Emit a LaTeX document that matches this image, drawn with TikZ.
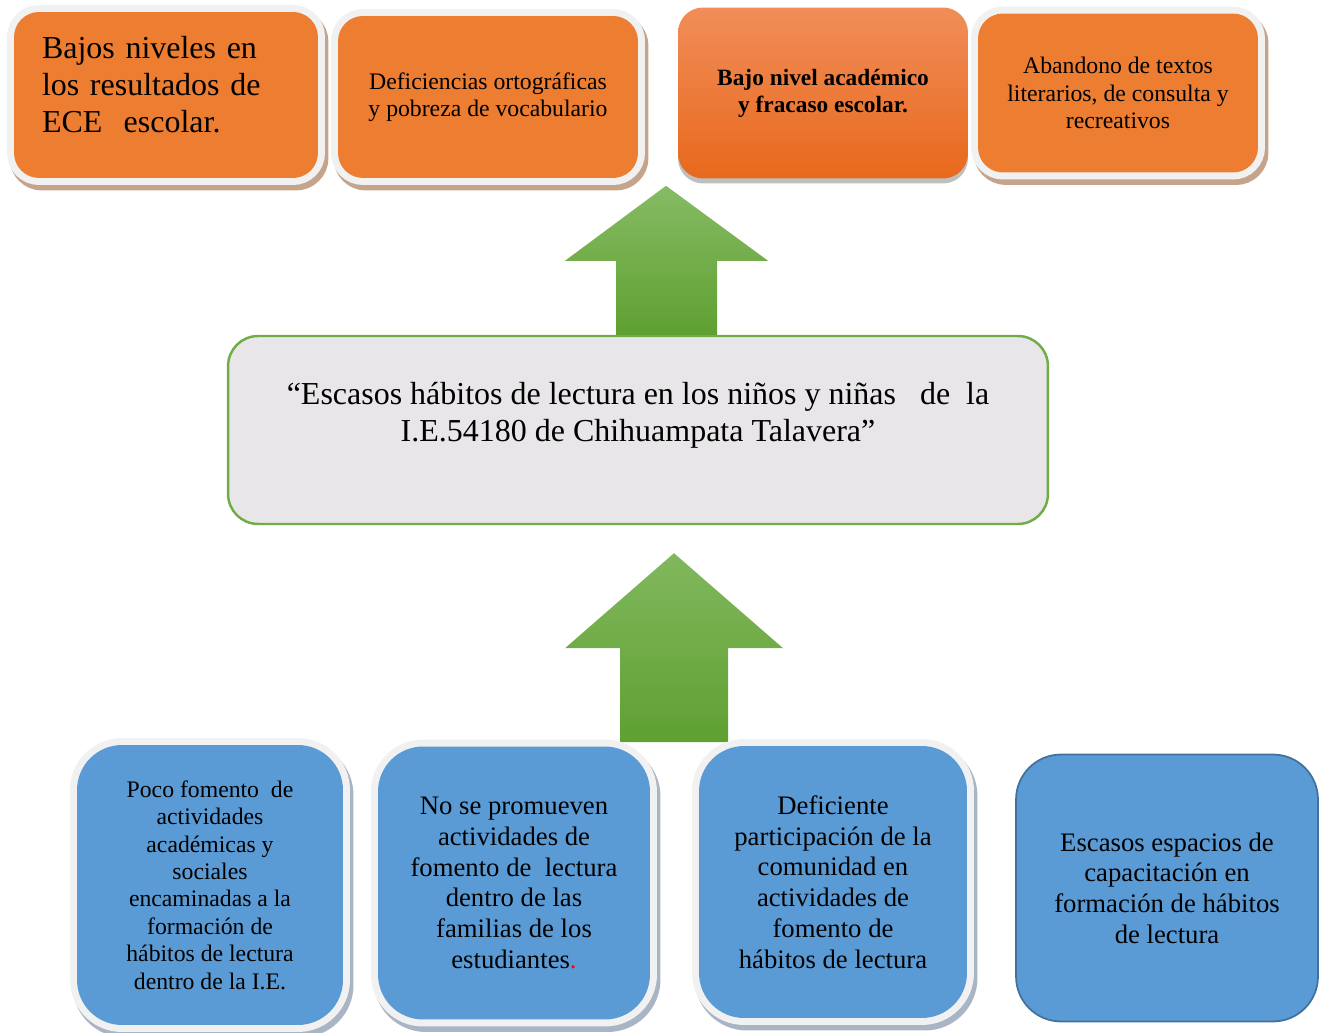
\documentclass[tikz,border=0pt]{standalone}
\usepackage{fontspec}
\setmainfont{Liberation Serif}
\usepackage{xcolor}
\usepackage{tikz}
\usetikzlibrary{
  positioning,
  shadows
}
\definecolor{efcolor}{HTML}{ED7D31}
\definecolor{efdark}{HTML}{E8691C}
\definecolor{eflight}{HTML}{F18D59}
\definecolor{cacolor}{HTML}{5B9BD5}
\definecolor{caborder}{HTML}{41719C}
\definecolor{probfill}{HTML}{E8E6E8}
\definecolor{probborder}{HTML}{70AD47}
\definecolor{frmgray}{HTML}{F1F1F1}
\definecolor{tanshadow}{HTML}{C6A48C}
\definecolor{blushadow}{HTML}{A9B5C4}
\definecolor{arrtop}{HTML}{86BB64}
\definecolor{arrbot}{HTML}{5FA031}

\begin{document}
\begin{tikzpicture}[
  x=0.02cm, y=-0.02cm,
  framed/.style={preaction={fill=#1, draw=#1, line width=0.3cm,
                   transform canvas={shift={(0.06cm,-0.1cm)}}},
                 preaction={draw=frmgray, line width=0.28cm}},
  efecto/.style={rounded corners=0.5cm, fill=efcolor, align=center,
                 inner sep=0pt, font=\fontsize{13.5}{15.6}\selectfont,
                 framed=tanshadow},
  causa/.style={rounded corners=0.9cm, fill=cacolor, align=center,
                inner sep=0pt, font=\fontsize{15.2}{17.5}\selectfont,
                framed=blushadow},
  problema/.style={draw=probborder, line width=1.4pt, fill=probfill,
                   rounded corners=0.6cm, align=center, inner sep=0pt,
                   font=\fontsize{18.2}{21}\selectfont},
  flecha/.style={top color=arrtop, bottom color=arrbot, draw=none},
]
  \useasboundingbox (0,0) rectangle (1328,1033);

  % Efectos
  \node[efecto, minimum width=6.08cm, minimum height=3.32cm,
        align=left, text width=4.96cm, inner xsep=0.56cm, text depth=1.9cm,
        font=\fontsize{18.2}{21}\selectfont] (e1) at (166,95)
    {Bajos niveles en\\los resultados de\\ECE\ \ escolar.};
  \node[efecto, minimum width=6.0cm, minimum height=3.24cm] (e2) at (488,97)
    {Deficiencias ortográficas\\y pobreza de vocabulario};
  \node[rounded corners=0.5cm, top color=eflight, bottom color=efdark,
        minimum width=5.8cm, minimum height=3.42cm, align=center,
        font=\fontsize{13.3}{15.4}\selectfont\bfseries,
        drop shadow={shadow xshift=0cm, shadow yshift=-0.1cm, opacity=0.5}]
    (e3) at (823,93) {Bajo nivel académico\\y fracaso escolar.};
  \node[efecto, minimum width=5.6cm, minimum height=3.18cm] (e4) at (1118,93)
    {Abandono de textos\\literarios, de consulta y\\recreativos};

  % Problema central
  \node[problema, minimum width=16.4cm, minimum height=3.76cm,
        text depth=0.74cm] (prob) at (638,430)
    {``Escasos hábitos de lectura en los niños y niñas\ \ \ de\ \ la\\
     I.E.54180 de Chihuampata Talavera''};

  % Flechas
  \path[flecha] (prob.north) ++(-22,0) -- ++(0,-74) -- ++(-51,0)
    -- ++(101,-75) -- ++(102,75) -- ++(-51,0) -- ++(0,74) -- cycle;
  \path[flecha] (prob.south) ++(-18,217) -- ++(0,-94) -- ++(-55,0)
    -- ++(109,-95) -- ++(109,95) -- ++(-55,0) -- ++(0,94) -- cycle;

  % Causas
  \node[causa, minimum width=5.32cm, minimum height=5.6cm,
        font=\fontsize{13.5}{15.6}\selectfont] (c1) at (210,885)
    {Poco fomento\ \ de\\actividades\\académicas y\\sociales\\encaminadas a la\\
     formación de\\hábitos de lectura\\dentro de la I.E.};
  \node[causa, minimum width=5.44cm, minimum height=5.46cm] (c2) at (514,883)
    {No se promueven\\actividades de\\fomento de\ \ lectura\\dentro de las\\
     familias de los\\estudiantes{\color{red}.}};
  \node[causa, minimum width=5.36cm, minimum height=5.44cm] (c3) at (833,882)
    {Deficiente\\participación de la\\comunidad en\\actividades de\\
     fomento de\\hábitos de lectura};
  \node[rounded corners=0.9cm, fill=cacolor, draw=caborder, line width=1pt,
        minimum width=6.04cm, minimum height=5.34cm, align=center,
        font=\fontsize{15.2}{17.5}\selectfont] (c4) at (1167,888)
    {Escasos espacios de\\capacitación en\\formación de hábitos\\de lectura};
\end{tikzpicture}
\end{document}
